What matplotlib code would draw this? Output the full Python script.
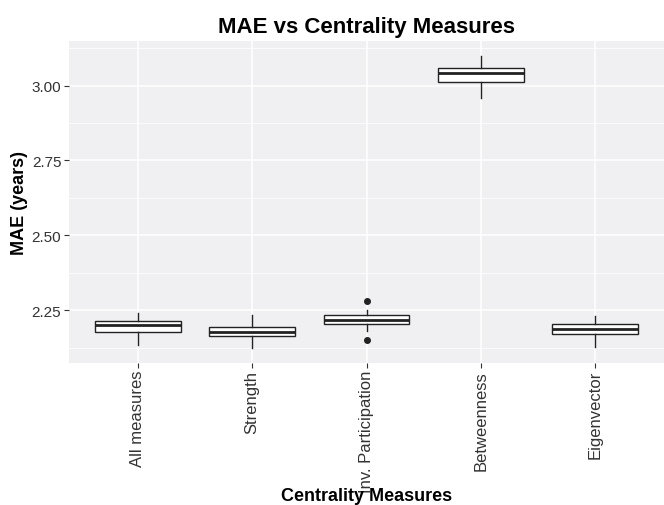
import matplotlib
matplotlib.use("Agg")
import matplotlib.pyplot as plt
from matplotlib.ticker import MultipleLocator

plt.rcParams['font.family'] = ['Liberation Sans', 'DejaVu Sans']

# valores (MAE en anios)
medidas = ['All measures', 'Strength', 'Inv. Participation', 'Betweenness', 'Eigenvector']
bigote_inf = [2.135, 2.123, 2.182, 2.960, 2.127]
caja_inf = [2.178, 2.163, 2.206, 3.013, 2.172]
mediana = [2.200, 2.178, 2.219, 3.043, 2.189]
caja_sup = [2.214, 2.195, 2.233, 3.058, 2.205]
bigote_sup = [2.242, 2.236, 2.252, 3.099, 2.230]
atipicos = [[], [], [2.282, 2.152], [], []]

y_ticks = [2.25, 2.50, 2.75, 3.00]

stats = []
for i, nombre in enumerate(medidas):
    stats.append({
        'label': nombre,
        'whislo': bigote_inf[i], 'q1': caja_inf[i], 'med': mediana[i],
        'q3': caja_sup[i], 'whishi': bigote_sup[i], 'fliers': atipicos[i],
    })

fig = plt.figure(figsize=(6.64, 5.06), dpi=100)
ax = fig.add_axes([69 / 664, 1 - 364 / 506, 1 - 69 / 664, (364 - 42.3) / 506])
ax.set_facecolor('#f0f0f2')

pos = list(range(1, len(medidas) + 1))
ax.bxp(stats, positions=pos, widths=0.75, showcaps=False, patch_artist=True,
       boxprops=dict(facecolor='white', edgecolor='#222222', linewidth=1.0),
       medianprops=dict(color='#222222', linewidth=2.0),
       whiskerprops=dict(color='#222222', linewidth=1.0),
       flierprops=dict(marker='o', markerfacecolor='#222222', markeredgecolor='#222222',
                       markersize=4), zorder=3)

# rango con expansion del 5% como ggplot
vmin = min(bigote_inf + [v for a in atipicos for v in a])
vmax = max(bigote_sup + [v for a in atipicos for v in a])
rango = vmax - vmin
ax.set_ylim(vmin - 0.05 * rango, vmax + 0.05 * rango)
ax.set_xlim(0.4, len(medidas) + 0.6)

ax.set_yticks(y_ticks)
ax.set_yticklabels([f"{v:.2f}" for v in y_ticks])
ax.yaxis.set_minor_locator(MultipleLocator(0.125))
ax.set_xticks(pos)
ax.set_xticklabels(medidas, rotation=90, va='top', ha='center')

ax.grid(True, which='major', color='white', linewidth=1.1, zorder=0)
ax.grid(True, which='minor', axis='y', color='white', linewidth=0.55, zorder=0)
ax.set_axisbelow(True)
for s in ax.spines.values():
    s.set_visible(False)

ax.tick_params(axis='y', which='major', labelsize=11, labelcolor='#333333',
               color='#333333', length=3.5, width=0.8, pad=2)
ax.tick_params(axis='x', which='major', labelsize=12, labelcolor='#333333',
               color='#333333', length=3.5, width=0.8, pad=1.5)
ax.tick_params(which='minor', length=0)

ax.set_title('MAE vs Centrality Measures', fontsize=16, fontweight='bold', pad=7)
ax.set_ylabel('MAE (years)', fontsize=13, fontweight='bold', va='center')
ax.yaxis.set_label_coords((20 - 69) / 595, 0.5)
ax.set_xlabel('Centrality Measures', fontsize=13, fontweight='bold', va='baseline')
ax.xaxis.set_label_coords(0.5, -(501 - 364) / 321.7)

fig.savefig('out.png', dpi=100)
